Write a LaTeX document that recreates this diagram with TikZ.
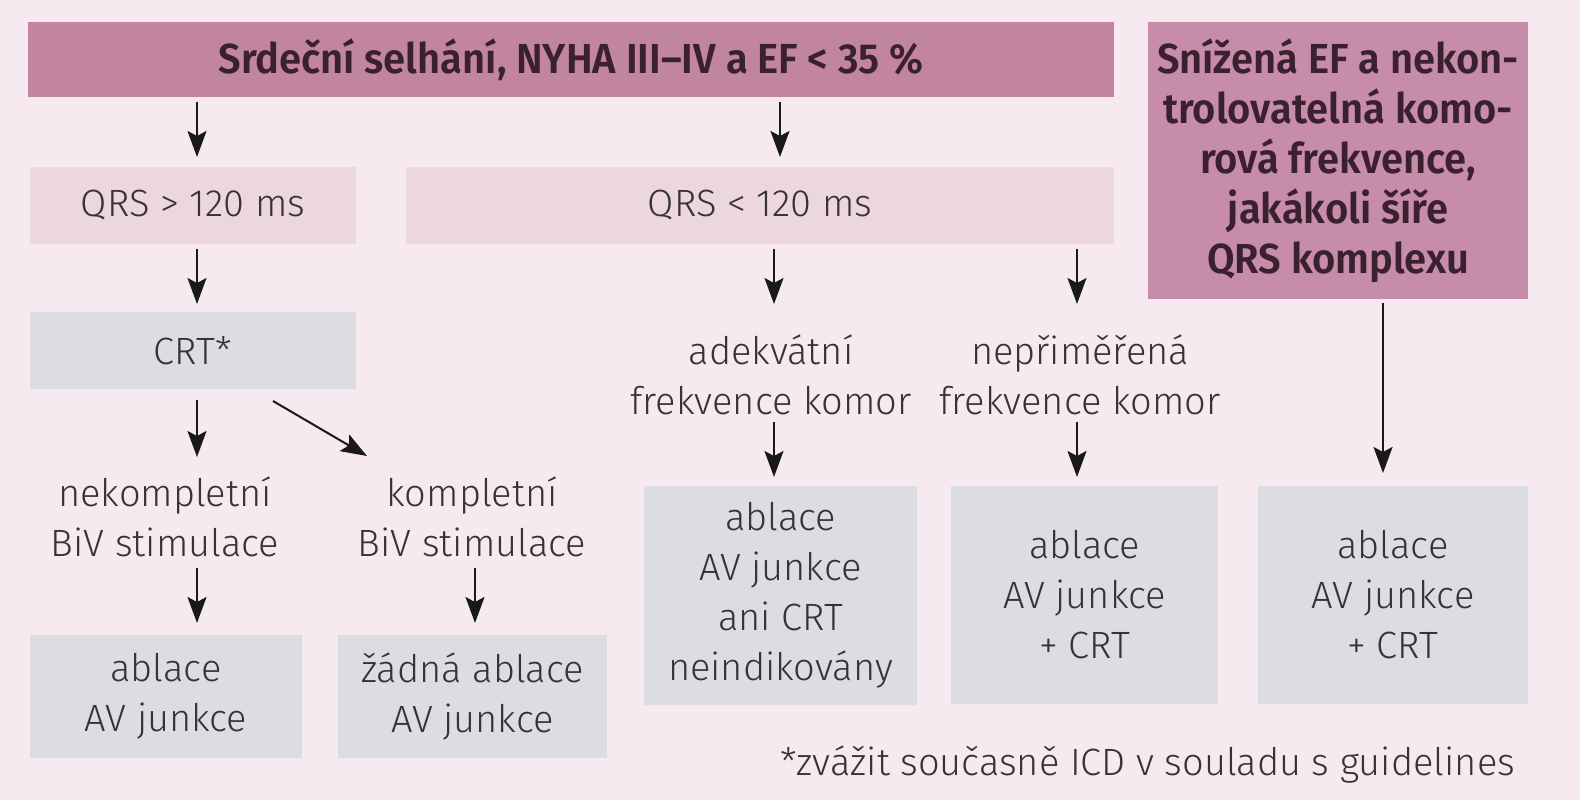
\documentclass[tikz,border=0pt]{standalone}
\usepackage{fontspec}
\setmainfont{Fira Sans}
\newfontfamily\myLight{Fira Sans Light}
\newfontfamily\myBold{Fira Sans SemiBold}[FakeStretch=0.95]
\usetikzlibrary{arrows.meta}
\definecolor{bgc}{HTML}{F6E9EF}
\definecolor{mauve}{HTML}{C2859F}
\definecolor{mauveR}{HTML}{C68CA9}
\definecolor{lpink}{HTML}{ECD6E0}
\definecolor{lgray}{HTML}{DCDDE0}
\definecolor{txt}{HTML}{353335}
\definecolor{btxt}{HTML}{3B2030}
\newcommand\regf{\myLight\fontsize{38pt}{50pt}\selectfont}
\newcommand\boldf{\myBold\fontsize{42pt}{50pt}\selectfont}
\begin{document}
\begin{tikzpicture}[x=1pt,y=-1pt,
  base/.style={inner sep=0pt, outer sep=0pt, align=center},
  hdr/.style={base, fill=mauve, text=btxt, font=\boldf},
  hdrR/.style={base, fill=mauveR, text=btxt, font=\boldf},
  qbox/.style={base, fill=lpink, text=txt, font=\regf},
  gbox/.style={base, fill=lgray, text=txt, font=\regf},
  lbl/.style={base, text=txt, font=\regf},
  arr/.style={line width=2pt, draw=black!90, -{Stealth[length=26pt,width=19pt,inset=5pt]}}]
\fill[bgc] (0,0) rectangle (1580,800);
\useasboundingbox (0,0) rectangle (1580,800);
% columns
\coordinate (c1) at (197,0);
\coordinate (c2) at (780,0);
\coordinate (c4) at (774,0);
\coordinate (c5) at (1077,0);
\coordinate (c9) at (475,0);
\coordinate (c12) at (1383,0);
% nodes
\node[hdr, minimum width=1086pt, minimum height=75pt] (title) at (571,59.5) {Srdeční selhání, NYHA III–IV a EF < 35 \%};
\node[hdrR, minimum width=380pt, minimum height=277pt] (right) at (1338,160.5) {Snížená EF a nekon-\\trolovatelná komo-\\rová frekvence,\\jakákoli šíře\\QRS komplexu};
\node[qbox, minimum width=326pt, minimum height=77pt] (qrs1) at (193,205.5) {QRS > 120 ms};
\node[qbox, minimum width=708pt, minimum height=77pt] (qrs2) at (760,205.5) {QRS < 120 ms};
\node[gbox, minimum width=326pt, minimum height=77pt] (crt) at (193,350.5) {CRT*};
\node[lbl, minimum height=102pt] (nek) at (165,517) {nekompletní\\BiV stimulace};
\node[lbl, minimum height=102pt] (kom) at (472,517) {kompletní\\BiV stimulace};
\node[gbox, minimum width=272pt, minimum height=123pt] (abl1) at (166,696.5) {ablace\\AV junkce};
\node[gbox, minimum width=269pt, minimum height=123pt] (abl2) at (472.5,696.5) {žádná ablace\\AV junkce};
\node[lbl, minimum height=94pt] (adekv) at (771,375) {adekvátní\\frekvence komor};
\node[lbl, minimum height=94pt] (nep) at (1080,375) {nepřiměřená\\frekvence komor};
\node[gbox, minimum width=273pt, minimum height=219pt] (adbox) at (780.5,595.5) {ablace\\AV junkce\\ani CRT\\neindikovány};
\node[gbox, minimum width=267pt, minimum height=218pt] (nepbox) at (1084.5,595) {ablace\\AV junkce\\+ CRT};
\node[gbox, minimum width=270pt, minimum height=218pt] (rbox) at (1393,595) {ablace\\AV junkce\\+ CRT};
\node[lbl, anchor=base east] (foot) at (1515,775) {*zvážit současně ICD v souladu s guidelines};
% connectors
\draw[arr, shorten <=5pt, shorten >=10pt] (title.south -| c1) -- (qrs1.north -| c1);
\draw[arr, shorten <=5pt, shorten >=10pt] (title.south -| c2) -- (qrs2.north -| c2);
\draw[arr, shorten <=5pt, shorten >=8pt] (qrs1.south -| c1) -- (crt.north -| c1);
\draw[arr, shorten <=5pt, shorten >=24pt] (qrs2.south -| c4) -- (adekv.north -| c4);
\draw[arr, shorten <=5pt, shorten >=24pt] (qrs2.south -| c5) -- (nep.north -| c5);
\draw[arr, shorten <=11pt, shorten >=9pt] (crt.south -| c1) -- (nek.north -| c1);
\draw[arr] ([xshift=-83pt,yshift=-12pt]crt.south east) -- ([xshift=-105pt,yshift=10pt]kom.north);
\draw[arr, shorten >=12pt] (nek.south -| c1) -- (abl1.north -| c1);
\draw[arr, shorten >=12pt] (kom.south -| c9) -- (abl2.north -| c9);
\draw[arr, shorten >=9pt] (adekv.south -| c4) -- (adbox.north -| c4);
\draw[arr, shorten >=9pt] (nep.south -| c5) -- (nepbox.north -| c5);
\draw[arr, shorten <=4pt, shorten >=13pt] (right.south -| c12) -- (rbox.north -| c12);
\end{tikzpicture}
\end{document}
